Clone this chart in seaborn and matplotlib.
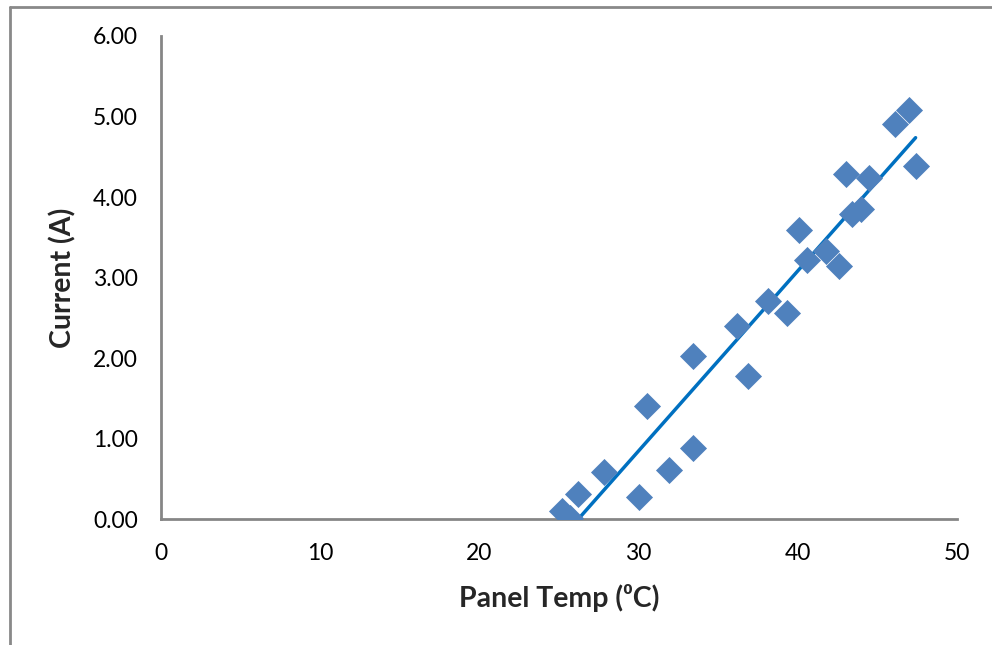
import numpy as np
import pandas as pd
import matplotlib.pyplot as plt
import seaborn as sns
from matplotlib.lines import Line2D

# datos
panel_temp = [25.2, 25.7, 26.2, 27.8, 30.0, 30.5, 31.9, 33.4, 33.4, 36.2, 36.9, 38.1,
              39.3, 40.1, 40.6, 41.8, 42.6, 43.0, 43.4, 44.0, 44.5, 46.1, 47.0, 47.4]
current = [0.10, 0.01, 0.31, 0.58, 0.27, 1.40, 0.61, 2.02, 0.88, 2.40, 1.78, 2.71,
           2.56, 3.59, 3.22, 3.33, 3.14, 4.29, 3.79, 3.85, 4.24, 4.91, 5.08, 4.39]
x_ticks = [0, 10, 20, 30, 40, 50]
y_ticks = [0, 1, 2, 3, 4, 5, 6]

datos = pd.DataFrame({"Panel Temp": panel_temp, "Current": current})

sns.set_style("white")
plt.rcParams["font.family"] = ["Lato", "DejaVu Sans"]

fig = plt.figure(figsize=(9.92, 6.45), dpi=100)
ax = fig.add_axes([0.1623, 0.1953, 0.8024, 0.7489])

gris = "#868686"

# linea de tendencia
sns.regplot(data=datos, x="Panel Temp", y="Current", ax=ax, scatter=False, ci=None,
            truncate=True, line_kws={"color": "#0070C0", "linewidth": 2.5, "zorder": 2})
# puntos
sns.scatterplot(data=datos, x="Panel Temp", y="Current", ax=ax, marker="D", s=190,
                color="#4F81BD", edgecolor="#4F81BD", linewidth=0, zorder=3)

ax.set_xlim(0, 50)
ax.set_ylim(0, 6)
ax.set_xticks(x_ticks)
ax.set_yticks(y_ticks)
ax.set_yticklabels([f"{v:.2f}" for v in y_ticks])
ax.tick_params(axis="both", labelsize=16.5, colors=gris, labelcolor="black",
               direction="out", length=5.5, width=2)
ax.tick_params(axis="y", pad=11)
ax.tick_params(axis="x", pad=12)

for lado in ["top", "right"]:
    ax.spines[lado].set_visible(False)
for lado in ["left", "bottom"]:
    ax.spines[lado].set_color(gris)
    ax.spines[lado].set_linewidth(2)

ax.set_xlabel("Panel Temp (⁰C)", fontsize=20.5, fontweight="bold", labelpad=14)
ax.set_ylabel("Current (A)", fontsize=20.5, fontweight="bold", labelpad=12)

# borde del area del grafico
fig.add_artist(Line2D([10 / 992, 10 / 992], [0, 1 - 7 / 645], transform=fig.transFigure,
                      color="#898989", linewidth=2))
fig.add_artist(Line2D([10 / 992, 1], [1 - 7 / 645, 1 - 7 / 645], transform=fig.transFigure,
                      color="#898989", linewidth=2))

fig.savefig("out.png", dpi=100)
